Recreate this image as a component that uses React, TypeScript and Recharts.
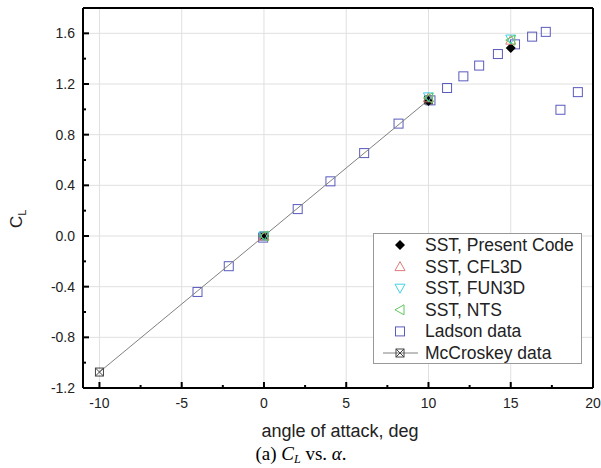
import React from "react";
import { CartesianGrid, Legend, ReferenceLine, Scatter, ScatterChart, XAxis, YAxis } from "recharts";

// axis ticks
const xMajor = [-10, -5, 0, 5, 10, 15, 20];
const xMinor = [-7.5, -2.5, 2.5, 7.5, 12.5, 17.5];
const yMajor = [-1.2, -0.8, -0.4, 0.0, 0.4, 0.8, 1.2, 1.6];
const yMinor = [-1.0, -0.6, -0.2, 0.2, 0.6, 1.0, 1.4];

// Ladson experimental data
const ladsonAlpha = [-4.04, -2.14, -0.05, 2.05, 4.04, 6.09, 8.18, 10.12, 11.13, 12.12, 13.08, 14.22, 15.26, 16.3, 17.13, 18.02, 19.08];
const ladsonCl = [-0.4417, -0.2385, -0.0126, 0.2125, 0.4316, 0.6546, 0.8873, 1.0707, 1.1685, 1.2605, 1.3455, 1.4365, 1.5129, 1.5739, 1.6116, 0.9967, 1.1358];

// McCroskey data
const mccAlpha = [-10, 0, 10];
const mccCl = [-1.074, 0, 1.074];

// SST results
const sstAlpha = [0, 10, 15];
const presentCl = [0, 1.065, 1.485];
const cfl3dCl = [0, 1.0909, 1.5461];
const fun3dCl = [0, 1.0983, 1.5547];
const ntsCl = [0, 1.0891, 1.5461];

const toPts = (xs: number[], ys: number[]) => xs.map((x, i) => ({ x, y: ys[i] }));

const FONT = "'Liberation Sans', Arial, sans-serif";

const Diamond = ({ cx, cy }: any) => (
  <polygon points={`${cx},${cy - 5} ${cx + 5},${cy} ${cx},${cy + 5} ${cx - 5},${cy}`} fill="#000" />
);
const TriUp = (color: string) => ({ cx, cy }: any) => (
  <polygon points={`${cx},${cy - 5} ${cx + 5},${cy + 4} ${cx - 5},${cy + 4}`} fill="none" stroke={color} strokeWidth={1} />
);
const TriDown = (color: string) => ({ cx, cy }: any) => (
  <polygon points={`${cx},${cy + 5} ${cx + 5},${cy - 4} ${cx - 5},${cy - 4}`} fill="none" stroke={color} strokeWidth={1} />
);
const TriLeft = (color: string) => ({ cx, cy }: any) => (
  <polygon points={`${cx - 5},${cy} ${cx + 4},${cy - 5} ${cx + 4},${cy + 5}`} fill="none" stroke={color} strokeWidth={1} />
);
const Square = ({ cx, cy }: any) => (
  <rect x={cx - 4.5} y={cy - 4.5} width={9} height={9} fill="none" stroke="#5a5abf" strokeWidth={1} />
);
const XSquare = ({ cx, cy }: any) => (
  <g stroke="#444" strokeWidth={1} fill="none">
    <rect x={cx - 4} y={cy - 4} width={8} height={8} />
    <line x1={cx - 4} y1={cy - 4} x2={cx + 4} y2={cy + 4} />
    <line x1={cx - 4} y1={cy + 4} x2={cx + 4} y2={cy - 4} />
  </g>
);

const legendItems = [
  { name: "SST, Present Code", shape: Diamond, line: false },
  { name: "SST, CFL3D", shape: TriUp("#e07a7a"), line: false },
  { name: "SST, FUN3D", shape: TriDown("#3fd3e3"), line: false },
  { name: "SST, NTS", shape: TriLeft("#5cc95c"), line: false },
  { name: "Ladson data", shape: Square, line: false },
  { name: "McCroskey data", shape: XSquare, line: true },
];

function XTick(props: any) {
  const { x, y, payload } = props;
  const major = xMajor.includes(payload.value);
  return (
    <g>
      <line x1={x} y1={y} x2={x} y2={y - (major ? 6 : 3)} stroke="#000" strokeWidth={2} />
      {major && (
        <text x={x} y={y + 20} textAnchor="middle" fontFamily={FONT} fontSize={14} fill="#222">
          {payload.value}
        </text>
      )}
    </g>
  );
}

function YTick(props: any) {
  const { x, y, payload } = props;
  const major = yMajor.some((v) => Math.abs(v - payload.value) < 1e-6);
  return (
    <g>
      <line x1={x} y1={y} x2={x + (major ? 6 : 3)} y2={y} stroke="#000" strokeWidth={2} />
      {major && (
        <text x={x - 8} y={y + 5} textAnchor="end" fontFamily={FONT} fontSize={14} fill="#222">
          {payload.value.toFixed(1)}
        </text>
      )}
    </g>
  );
}

function LegendBox() {
  return (
    <div style={{ border: "1px solid #999", background: "#fff", width: 207, height: 129, boxSizing: "content-box" }}>
      <svg width={207} height={129} style={{ display: "block", overflow: "visible" }}>
        {legendItems.map((it, i) => {
          const cy = 11 + i * 21.6;
          const S = it.shape as any;
          return (
            <g key={it.name}>
              {it.line && <line x1={9} y1={cy} x2={44} y2={cy} stroke="#808080" strokeWidth={1} />}
              <S cx={26} cy={cy} />
              <text x={51} y={cy + 6} fontFamily={FONT} fontSize={17.5} fill="#222">
                {it.name}
              </text>
            </g>
          );
        })}
      </svg>
    </div>
  );
}

export default function App() {
  return (
    <div style={{ position: "absolute", left: 0, top: 0, width: 601, height: 468, background: "#fff" }}>
      <ScatterChart width={601} height={468} margin={{ top: 8, right: 8, bottom: 0, left: 0 }}>
        <CartesianGrid horizontalValues={yMajor} verticalValues={xMajor} stroke="#e0e0e0" strokeWidth={1} />
        <XAxis
          type="number"
          dataKey="x"
          domain={[-11, 20]}
          ticks={[...xMajor, ...xMinor].sort((a, b) => a - b)}
          interval={0}
          height={80}
          tickSize={0}
          tickMargin={0}
          tickLine={false}
          tick={<XTick />}
          axisLine={{ stroke: "#000", strokeWidth: 2 }}
          allowDataOverflow
        />
        <YAxis
          type="number"
          dataKey="y"
          domain={[-1.2, 1.8]}
          ticks={[...yMajor, ...yMinor].sort((a, b) => a - b)}
          interval={0}
          width={83}
          tickSize={0}
          tickMargin={0}
          tickLine={false}
          tick={<YTick />}
          axisLine={{ stroke: "#000", strokeWidth: 2 }}
          allowDataOverflow
        />
        <ReferenceLine y={1.8} stroke="#000" strokeWidth={2} />
        <ReferenceLine x={20} stroke="#000" strokeWidth={2} />
        <Scatter name="Ladson data" data={toPts(ladsonAlpha, ladsonCl)} shape={Square} isAnimationActive={false} />
        <Scatter
          name="McCroskey data"
          data={toPts(mccAlpha, mccCl)}
          shape={XSquare}
          line={{ stroke: "#808080", strokeWidth: 1 }}
          isAnimationActive={false}
        />
        <Scatter name="SST, Present Code" data={toPts(sstAlpha, presentCl)} shape={Diamond} isAnimationActive={false} />
        <Scatter name="SST, CFL3D" data={toPts(sstAlpha, cfl3dCl)} shape={TriUp("#e07a7a")} isAnimationActive={false} />
        <Scatter name="SST, FUN3D" data={toPts(sstAlpha, fun3dCl)} shape={TriDown("#3fd3e3")} isAnimationActive={false} />
        <Scatter name="SST, NTS" data={toPts(sstAlpha, ntsCl)} shape={TriLeft("#5cc95c")} isAnimationActive={false} />
        <Legend
          layout="vertical"
          align="center"
          verticalAlign="middle"
          content={() => <LegendBox />}
          wrapperStyle={{ left: 373, top: 233, width: 209, height: 131 }}
        />
      </ScatterChart>
      <svg width={601} height={468} style={{ position: "absolute", left: 0, top: 0, pointerEvents: "none" }}>
        <text transform="translate(22, 228) rotate(-90)" fontFamily={FONT} fontSize={17} fill="#222">
          C
          <tspan fontSize={11} dy={4}>
            L
          </tspan>
        </text>
        <text x={340} y={437} textAnchor="middle" fontFamily={FONT} fontSize={18} fill="#222">
          angle of attack, deg
        </text>
        <text x={301} y={460} textAnchor="middle" fontFamily="'Liberation Serif', 'Times New Roman', serif" fontSize={19} fill="#000">
          (a){" "}
          <tspan fontStyle="italic">C</tspan>
          <tspan fontStyle="italic" fontSize={12} dy={3}>
            L
          </tspan>
          <tspan dy={-3}> vs. </tspan>
          <tspan fontStyle="italic">α</tspan>.
        </text>
      </svg>
    </div>
  );
}
